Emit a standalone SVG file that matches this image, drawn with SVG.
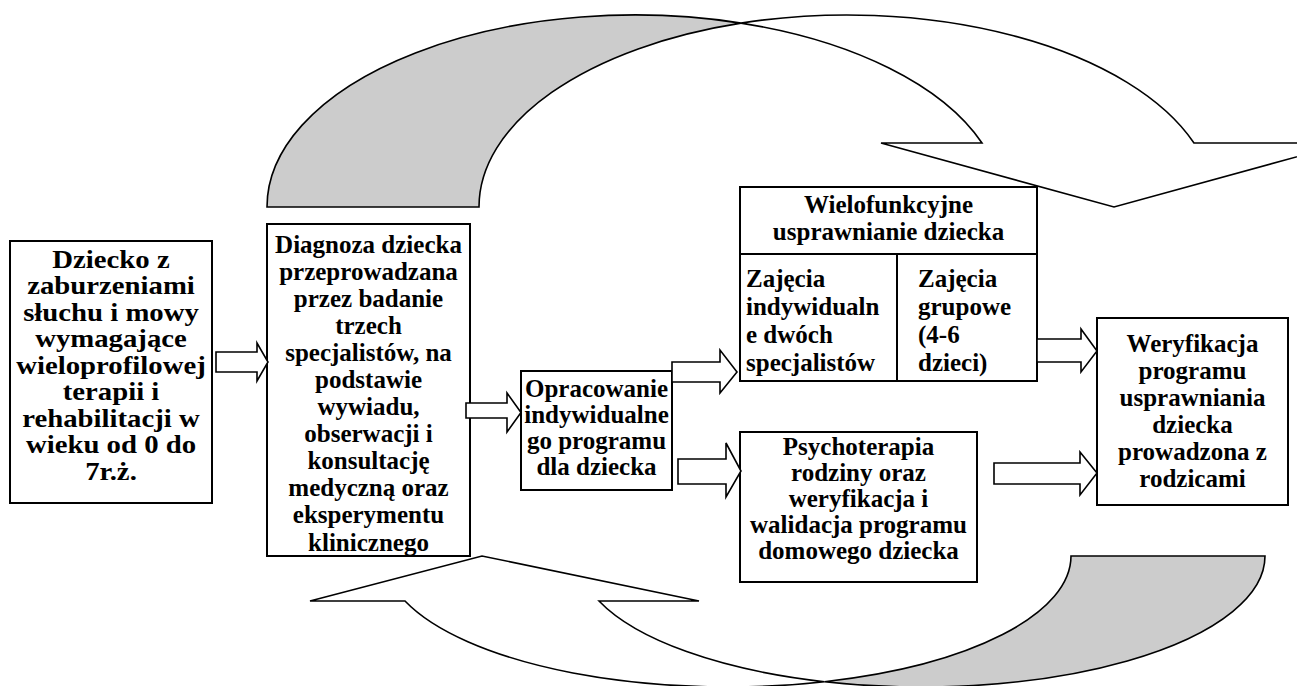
<svg xmlns="http://www.w3.org/2000/svg" width="1297" height="686" viewBox="0 0 1297 686">
<style>
.box{fill:#fff;stroke:#000;stroke-width:2}
.ln{fill:none;stroke:#000;stroke-width:2}
.t{font-family:"Liberation Serif","Times New Roman",serif;font-weight:bold;font-size:25px;fill:#000}
.c{text-anchor:middle}
.arr{fill:#fff;stroke:#000;stroke-width:1.6;stroke-linejoin:miter}
.big{stroke:#000;stroke-width:1.6;stroke-linejoin:miter}
</style>
<defs>
<clipPath id="cpB"><rect x="268" y="225" width="201" height="330"/></clipPath>
<clipPath id="cpD1"><rect x="741" y="255" width="155" height="125"/></clipPath>
<clipPath id="cpD2"><rect x="898" y="255" width="138" height="125"/></clipPath>
</defs>
<rect width="1297" height="686" fill="#fff"/>

<g id="curve-top">
<path class="big" fill="#ccc" d="M267,207 A368,192 0 0 1 741,23.1 A368,192 0 0 0 479,207 Z"/>
<path class="big" fill="#fff" d="M741,23.1 A368,192 0 0 1 1194,143 L1347,143 L1114,207 L881,143 L982,143 A368,192 0 0 0 741,23.1 Z"/>
</g>

<g id="curve-bottom">
<path class="big" fill="#fff" d="M405,601 A343.5,131 0 0 0 824.5,681.7 A343.5,131 0 0 1 599,601 L699,601 L482,556 L310,601 Z"/>
<path class="big" fill="#ccc" d="M824.5,681.7 A343.5,131 0 0 0 1265,556 L1071,556 A343.5,131 0 0 1 824.5,681.7 Z"/>
</g>

<g id="n1">
<rect class="box" x="10" y="241" width="202" height="262"/>
<text class="t c" transform="translate(111,0) scale(1.15,1)"><tspan x="0" y="268">Dziecko z</tspan><tspan x="0" y="294.5">zaburzeniami</tspan><tspan x="0" y="321">słuchu i mowy</tspan><tspan x="0" y="347.5">wymagające</tspan><tspan x="0" y="374">wieloprofilowej</tspan><tspan x="0" y="400.5">terapii i</tspan><tspan x="0" y="427">rehabilitacji w</tspan><tspan x="0" y="453.5">wieku od 0 do</tspan><tspan x="0" y="480">7r.ż.</tspan></text>
</g>

<g id="n2">
<rect class="box" x="267" y="224" width="203" height="332"/>
<g clip-path="url(#cpB)">
<text class="t c"><tspan x="368.5" y="253">Diagnoza dziecka</tspan><tspan x="368.5" y="280">przeprowadzana</tspan><tspan x="368.5" y="307">przez badanie</tspan><tspan x="368.5" y="334">trzech</tspan><tspan x="368.5" y="361">specjalistów, na</tspan><tspan x="368.5" y="388">podstawie</tspan><tspan x="368.5" y="415">wywiadu,</tspan><tspan x="368.5" y="442">obserwacji i</tspan><tspan x="368.5" y="469">konsultację</tspan><tspan x="368.5" y="496">medyczną oraz</tspan><tspan x="368.5" y="523">eksperymentu</tspan><tspan x="368.5" y="551">klinicznego</tspan></text>
</g>
</g>

<g id="n3">
<rect class="box" x="521" y="371" width="151" height="119"/>
<text class="t c"><tspan x="596.5" y="397">Opracowanie</tspan><tspan x="596.5" y="423">indywidualne</tspan><tspan x="596.5" y="449">go programu</tspan><tspan x="596.5" y="475">dla dziecka</tspan></text>
</g>

<g id="n4">
<rect class="box" x="740" y="187" width="297" height="194"/>
<line class="ln" x1="740" y1="254" x2="1037" y2="254"/>
<line class="ln" x1="897" y1="254" x2="897" y2="381"/>
<text class="t c"><tspan x="888.5" y="213">Wielofunkcyjne</tspan><tspan x="888.5" y="240">usprawnianie dziecka</tspan></text>
<g clip-path="url(#cpD1)">
<text class="t"><tspan x="746" y="287">Zajęcia</tspan><tspan x="746" y="315">indywidualn</tspan><tspan x="746" y="343">e dwóch</tspan><tspan x="746" y="371">specjalistów</tspan></text>
</g>
<g clip-path="url(#cpD2)">
<text class="t"><tspan x="918" y="287">Zajęcia</tspan><tspan x="918" y="315">grupowe</tspan><tspan x="918" y="343">(4-6</tspan><tspan x="918" y="371">dzieci)</tspan></text>
</g>
</g>

<g id="n5">
<rect class="box" x="740" y="432" width="237" height="150"/>
<text class="t c"><tspan x="858.5" y="455">Psychoterapia</tspan><tspan x="858.5" y="481">rodziny oraz</tspan><tspan x="858.5" y="507">weryfikacja i</tspan><tspan x="858.5" y="533">walidacja programu</tspan><tspan x="858.5" y="559">domowego dziecka</tspan></text>
</g>

<g id="n6">
<rect class="box" x="1097" y="318" width="191" height="187"/>
<text class="t c"><tspan x="1192.5" y="352">Weryfikacja</tspan><tspan x="1192.5" y="379">programu</tspan><tspan x="1192.5" y="406">usprawniania</tspan><tspan x="1192.5" y="433">dziecka</tspan><tspan x="1192.5" y="460">prowadzona z</tspan><tspan x="1192.5" y="487">rodzicami</tspan></text>
</g>

<g id="connectors">
<polygon class="arr" points="216,352 257,352 257,343 268,362 257,381 257,372 216,372"/>
<polygon class="arr" points="466,403 507,403 507,393 521,412.5 507,432 507,418 466,418"/>
<polygon class="arr" points="672,362 720,362 720,350 737,372 720,393 720,382 672,382"/>
<polygon class="arr" points="678,459 726,459 726,443 741,471 726,497 726,484 678,484"/>
<polygon class="arr" points="1037,339 1081,339 1081,329 1097,351 1081,372 1081,362 1037,362"/>
<polygon class="arr" points="994,463 1080,463 1080,452 1097,473 1080,495 1080,484 994,484"/>
</g>
</svg>
